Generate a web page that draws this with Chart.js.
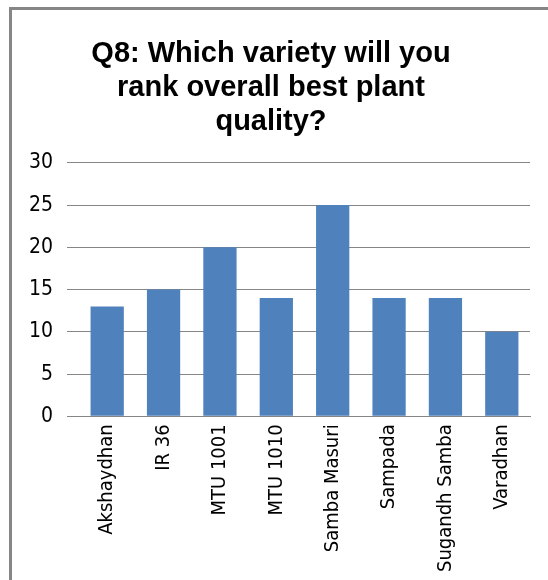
<!DOCTYPE html>
<html>
<head>
<meta charset="utf-8">
<script src="https://cdn.jsdelivr.net/npm/chart.js@4"></script>
<style>
  body { margin: 0; background: #fff; }
  #box {
    position: absolute; left: 9px; top: 7px; width: 539px; height: 573px;
    border-left: 3px solid #868686; border-top: 3px solid #868686;
  }
  #wrap { position: absolute; left: 0; top: 0; width: 536px; height: 570px; }
</style>
</head>
<body>
<div id="box"><div id="wrap"><canvas id="chart"></canvas></div></div>
<script>
const varieties = ["Akshaydhan", "IR 36", "MTU 1001", "MTU 1010", "Samba Masuri", "Sampada", "Sugandh Samba", "Varadhan"];
const votes = [13, 15, 20, 14, 25, 14, 14, 10];
const titleLines = ["Q8: Which variety will you", "rank overall best plant", "quality?"];

const labelFont = "'Liberation Sans Narrow', 'DejaVu Sans Condensed', sans-serif";

new Chart(document.querySelector("#chart"), {
  type: "bar",
  data: {
    labels: varieties,
    datasets: [{
      data: votes,
      backgroundColor: "#4f81bd",
      categoryPercentage: 1,
      barPercentage: 0.59,
    }],
  },
  options: {
    responsive: true,
    maintainAspectRatio: false,
    animation: false,
    layout: { padding: { top: 27, right: 18, left: 0, bottom: 0 } },
    plugins: {
      legend: { display: false },
      tooltip: { enabled: false },
      title: {
        display: true,
        text: titleLines,
        color: "#000",
        font: { family: "'Liberation Sans', Arial, sans-serif", size: 29, weight: "bold", lineHeight: 1.17 },
        padding: { top: 0, bottom: 24 },
      },
    },
    scales: {
      x: {
        grid: { display: false, drawTicks: false },
        border: { color: "#868686" },
        ticks: {
          color: "#000",
          minRotation: 90,
          maxRotation: 90,
          padding: 8,
          font: { family: labelFont, size: 20 },
        },
      },
      y: {
        min: 0,
        max: 30,
        ticks: {
          stepSize: 5,
          color: "#000",
          padding: 14,
          font: { family: labelFont, size: 21 },
        },
        grid: { color: "#868686", drawTicks: true, tickLength: 12 },
        border: { display: false },
        afterFit: (axis) => { axis.width = 67; },
      },
    },
  },
});
</script>
</body>
</html>
